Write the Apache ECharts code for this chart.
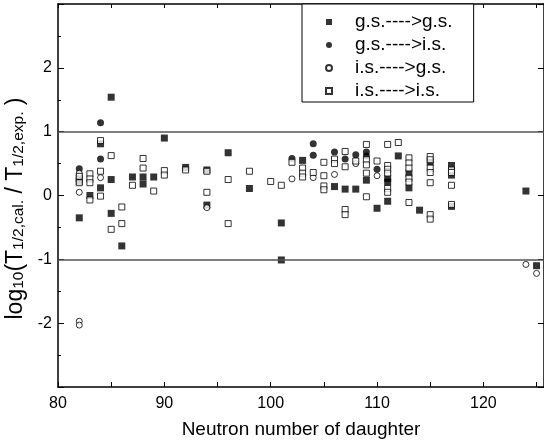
<html style="height: 100%">
<head>
	<meta charset="utf-8">
	<script type="text/javascript" src="https://cdn.jsdelivr.net/npm/echarts@6/dist/echarts.min.js"></script>
</head>

<body style="height: 100%; margin: 0">
	<div id="container" style="height:444px;width:544px"></div>
</body>

<script type="text/javascript">
	var dom = document.getElementById("container");
	var myChart = echarts.init(dom);

	// [neutron number of daughter, log10(Tcal/Texp)]
	let gsToGs = [[82, 0.27], [82, 0.22], [82, -0.35], [83, 0.0], [84, 0.81], [84, 0.12], [85, 1.54], [85, 0.25], [85, -0.28],
		[86, -0.79], [87, 0.29], [88, 0.29], [88, 0.18], [89, 0.29], [90, 0.9], [92, 0.44], [94, 0.40], [94, -0.15], [96, 0.67],
		[98, 0.11], [101, -0.43], [101, -1.01], [103, 0.55], [106, 0.14], [107, 0.1], [108, 0.1], [109, 0.24], [110, -0.2],
		[111, 0.27], [111, 0.21], [111, -0.09], [112, 0.62], [113, 0.35], [113, 0.12], [114, -0.23], [115, 0.52], [117, 0.47],
		[117, 0.32], [117, -0.17], [124, 0.07], [125, -1.1]]
	let gsToIs = [[82, 0.42], [84, 1.14], [84, 0.57], [102, 0.58], [104, 0.81], [104, 0.63], [106, 0.68], [107, 0.57],
		[108, 0.64], [109, 0.68], [109, 0.62], [110, 0.41]]
	let isToGs = [[82, 0.35], [82, 0.05], [82, -1.97], [82, -2.03], [84, 0.28], [94, -0.19], [102, 0.26], [104, 0.28],
		[106, 0.33], [108, 0.5], [110, 0.31], [124, -1.08], [125, -1.22]]
	let isToIs = [[82, 0.30], [82, 0.20], [83, 0.34], [83, 0.26], [83, 0.2], [83, -0.07], [84, 0.86], [84, 0.38], [84, -0.01],
		[85, 0.625], [85, -0.53], [86, -0.18], [86, -0.44], [87, 0.16], [88, 0.58], [88, 0.43], [89, 0.07], [90, 0.39], [90, 0.32],
		[92, 0.40], [94, 0.38], [94, 0.05], [96, 0.25], [96, -0.44], [98, 0.38], [100, 0.22], [101, 0.16], [102, 0.52], [103, 0.43],
		[103, 0.35], [103, 0.29], [104, 0.36], [105, 0.52], [105, 0.31], [105, 0.15], [105, 0.09], [106, 0.57], [106, 0.5],
		[107, 0.69], [107, 0.45], [107, -0.22], [107, -0.3], [108, 0.54], [109, 0.8], [109, 0.56], [109, 0.48], [109, 0.35],
		[109, -0.02], [110, 0.54], [111, 0.8], [111, 0.47], [111, 0.41], [111, 0.35], [111, 0.11], [111, 0.05], [112, 0.83],
		[113, 0.59], [113, 0.51], [113, 0.43], [113, 0.27], [113, 0.21], [113, -0.11], [115, 0.61], [115, 0.56], [115, 0.43],
		[115, 0.36], [115, 0.2], [115, -0.3], [115, -0.37], [117, 0.40], [117, 0.36], [117, 0.16], [117, -0.14]]

	let seriesNames = ['g.s.---->g.s.', 'g.s.---->i.s.', 'i.s.---->g.s.', 'i.s.---->i.s.']
	let xTicks = [80, 90, 100, 110, 120]
	let yTicks = [-2, -1, 0, 1, 2]
	let refLines = [1, -1]

	var font = 'Liberation Sans'

	function makeSeries(name, data, symbol, filled) {
		return {
			name: name,
			type: 'scatter',
			data: data,
			symbol: symbol,
			symbolSize: filled ? 7 : 6,
			itemStyle: {
				color: filled ? '#000' : '#fff',
				borderColor: '#000',
				borderWidth: filled ? 0 : 1
			}
		}
	}

	var series = [
		makeSeries(seriesNames[0], gsToGs, 'rect', true),
		makeSeries(seriesNames[1], gsToIs, 'circle', true),
		makeSeries(seriesNames[2], isToGs, 'circle', false),
		makeSeries(seriesNames[3], isToIs, 'rect', false)
	]
	// the two grey reference lines at +1 and -1
	series[0].markLine = {
		silent: true,
		symbol: 'none',
		label: { show: false },
		lineStyle: { color: '#555', width: 1.5, type: 'solid' },
		data: refLines.map(v => ({ yAxis: v }))
	}

	var option = {
		animation: false,
		textStyle: { fontFamily: font },
		grid: { left: 58, right: 0, top: 4, bottom: 57, outerBoundsMode: 'none' },
		legend: {
			orient: 'vertical',
			left: 302,
			top: 4,
			padding: [8, 21, 1, 23],
			itemGap: 3,
			itemWidth: 6,
			itemHeight: 6,
			backgroundColor: '#fff',
			borderColor: '#000',
			borderWidth: 1,
			textStyle: { fontFamily: font, fontSize: 19, color: '#000', lineHeight: 20, padding: [0, 0, 0, 18] },
			data: seriesNames
		},
		xAxis: [{
			type: 'value',
			min: 80,
			max: 125.7,
			interval: 5,
			name: 'Neutron number of daughter',
			nameLocation: 'middle',
			nameGap: 33,
			nameTextStyle: { fontFamily: font, fontSize: 19, color: '#000' },
			axisLine: { onZero: false, lineStyle: { color: '#000', width: 1.5 } },
			axisTick: { inside: true, length: 5, lineStyle: { color: '#000' } },
			axisLabel: {
				margin: 9, fontSize: 16, color: '#000', fontFamily: font,
				formatter: v => xTicks.indexOf(v) >= 0 ? '' + v : ''
			},
			splitLine: { show: false }
		}, {
			type: 'value',
			position: 'top',
			min: 80,
			max: 125.7,
			interval: 5,
			axisLine: { onZero: false, lineStyle: { color: '#000', width: 1.5 } },
			axisTick: { inside: true, length: 4, lineStyle: { color: '#000' } },
			axisLabel: { show: false },
			splitLine: { show: false }
		}],
		yAxis: [{
			type: 'value',
			min: -3,
			max: 3,
			interval: 1,
			name: '{m|log}{s|10}{m|(T}{s|1/2,cal.}{m| / T}{s|1/2,exp.}{m| )}',
			nameLocation: 'middle',
			nameRotate: 90,
			nameGap: 26,
			nameTextStyle: {
				padding: [0, 26, 0, 0],
				rich: {
					m: { fontFamily: font, fontSize: 23, color: '#000', lineHeight: 26, verticalAlign: 'bottom' },
					s: { fontFamily: font, fontSize: 15.5, color: '#000', lineHeight: 7, verticalAlign: 'bottom' }
				}
			},
			axisLine: { onZero: false, lineStyle: { color: '#000', width: 1.5 } },
			axisTick: { inside: true, length: 6, lineStyle: { color: '#000' } },
			minorTick: { show: true, splitNumber: 2, length: 3, lineStyle: { color: '#000' } },
			axisLabel: {
				margin: 6, fontSize: 16, color: '#000', fontFamily: font,
				formatter: v => yTicks.indexOf(v) >= 0 ? '' + v : ''
			},
			splitLine: { show: false },
			minorSplitLine: { show: false }
		}, {
			type: 'value',
			position: 'right',
			min: -3,
			max: 3,
			interval: 1,
			axisLine: { onZero: false, lineStyle: { color: '#000', width: 1.5 } },
			axisTick: { inside: true, length: 6, lineStyle: { color: '#000' } },
			axisLabel: { show: false },
			splitLine: { show: false }
		}],
		series: series
	};

	if (option && typeof option === 'object') {
		myChart.setOption(option);
	}
</script>

</html>
